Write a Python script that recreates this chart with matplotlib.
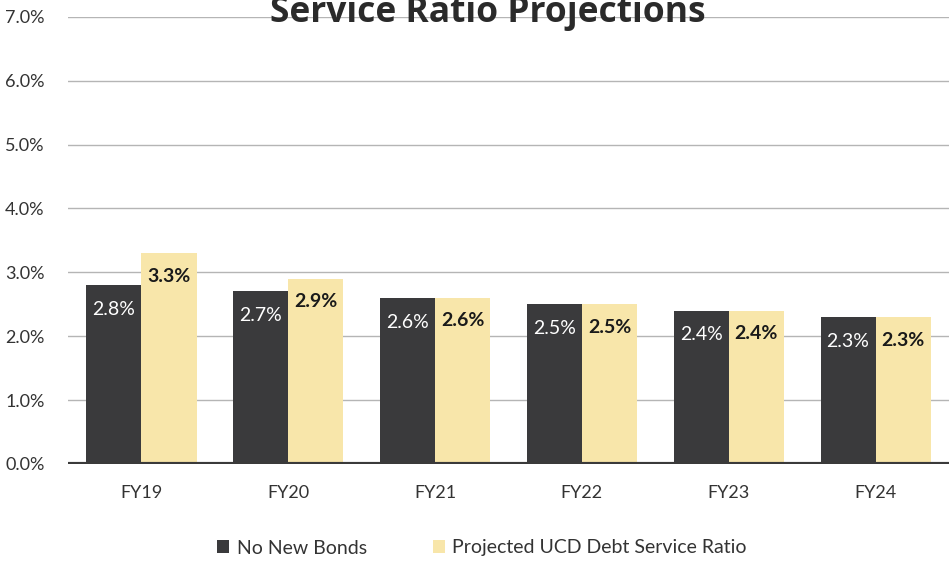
import matplotlib
matplotlib.use('Agg')
import matplotlib.pyplot as plt
import numpy as np

years = ['FY19', 'FY20', 'FY21', 'FY22', 'FY23', 'FY24']
no_new_bonds = [2.8, 2.7, 2.6, 2.5, 2.4, 2.3]
projected = [3.3, 2.9, 2.6, 2.5, 2.4, 2.3]
yticks = [0, 1, 2, 3, 4, 5, 6, 7]

plt.rcParams['font.family'] = ['Lato', 'DejaVu Sans']

dark = '#3a3a3c'
yellow = '#f8e6aa'

fig = plt.figure(figsize=(9.49, 5.61), dpi=100)
ax = fig.add_axes([0.0717, 0.173, 0.9283, 0.797])

x = np.arange(len(years))
w = 0.375
b1 = ax.bar(x - w / 2, no_new_bonds, w, color=dark, label='No New Bonds', zorder=3)
b2 = ax.bar(x + w / 2, projected, w, color=yellow, label='Projected UCD Debt Service Ratio', zorder=3)

for r, v in zip(b1, no_new_bonds):
    ax.text(r.get_x() + r.get_width() / 2, v - 0.38, f'{v:.1f}%', ha='center', va='center',
            color='white', fontsize=14, zorder=4)
for r, v in zip(b2, projected):
    ax.text(r.get_x() + r.get_width() / 2, v - 0.36, f'{v:.1f}%', ha='center', va='center',
            color='#1a1a1a', fontsize=14, fontweight='bold', zorder=4)

ax.set_xlim(-0.5, 5.5)
ax.set_ylim(0, 7)
ax.set_yticks(yticks)
ax.set_yticklabels([f'{t:.1f}%' for t in yticks])
ax.set_xticks(x)
ax.set_xticklabels(years)
ax.tick_params(axis='both', length=0, labelsize=13, labelcolor='#333333')
ax.tick_params(axis='x', pad=15)
ax.tick_params(axis='y', pad=17)
ax.grid(axis='y', color='#b5b5b5', linewidth=1, zorder=0)
for s in ax.spines.values():
    s.set_visible(False)
ax.axhline(0, color='#3a3a3a', linewidth=3, zorder=5)

fig.text(0.514, 1 - 22 / 561, 'Service Ratio Projections', ha='center', va='baseline',
         fontsize=25.5, fontweight='bold', color='#2a2a2a', family=['Open Sans', 'DejaVu Sans'])

fig.legend(handles=[b1, b2], loc='center', bbox_to_anchor=(0.508, 1 - 548 / 561), ncol=2,
           frameon=False, fontsize=14, handlelength=0.6, handleheight=0.6,
           handletextpad=0.4, columnspacing=3.4, labelcolor='#333333')

fig.savefig('out.png', dpi=100, facecolor='white')
